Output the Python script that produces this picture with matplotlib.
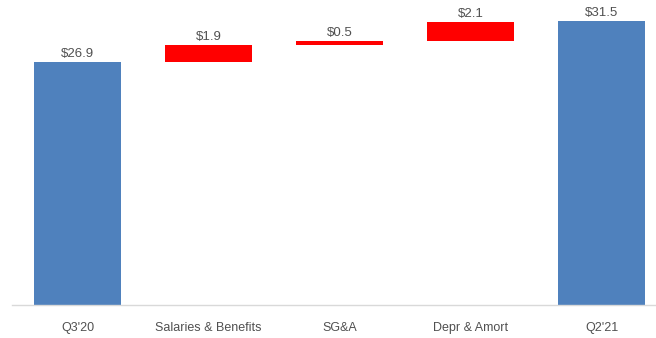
import matplotlib
matplotlib.use("Agg")
import matplotlib.pyplot as plt
import numpy as np

categories = ["Q3'20", "Salaries & Benefits", "SG&A", "Depr & Amort", "Q2'21"]
values = [26.9, 1.9, 0.5, 2.1, 31.5]
kinds = ["total", "delta", "delta", "delta", "total"]
labels = ["$26.9", "$1.9", "$0.5", "$2.1", "$31.5"]

plt.rcParams['font.family'] = ['Liberation Sans', 'DejaVu Sans']

fig = plt.figure(figsize=(6.56, 3.38), dpi=100)
ax = fig.add_axes([12/656, 33/338, 1 - 12/656, 305/338])

blue = "#4F81BD"
red = "#FF0000"
running = 0.0
bottoms, heights, colors = [], [], []
for v, k in zip(values, kinds):
    if k == "total":
        bottoms.append(0.0)
        heights.append(v)
        colors.append(blue)
        running = v
    else:
        bottoms.append(running)
        heights.append(v)
        colors.append(red)
        running += v

x = np.arange(len(categories))
ax.bar(x, heights, bottom=bottoms, width=0.67, color=colors, linewidth=0)
for xi, b, h, lab in zip(x, bottoms, heights, labels):
    ax.annotate(lab, (xi, b + h), xytext=(0, 1.5), textcoords="offset points",
                ha="center", va="bottom", fontsize=9.5, color="#505050")

ax.set_xlim(-0.5, 4.416)
ax.set_ylim(0, 33.8)
ax.set_xticks(x)
ax.set_xticklabels(categories, fontsize=9, color="#505050")
ax.tick_params(axis="x", length=0, pad=12)
ax.set_yticks([])
for s in ["top", "right", "left"]:
    ax.spines[s].set_visible(False)
ax.spines["bottom"].set_color("#D9D9D9")
ax.spines["bottom"].set_linewidth(1)

fig.savefig("out.png", dpi=100)
